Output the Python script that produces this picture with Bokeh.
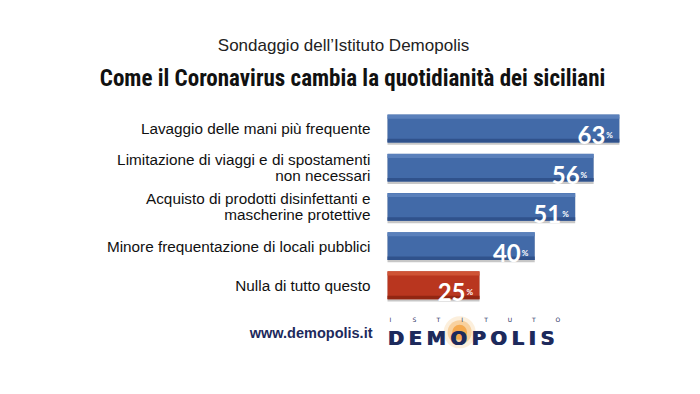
from bokeh.plotting import figure
from bokeh.models import Range1d, ColumnDataSource
from bokeh.core.properties import value
from bokeh.embed import file_html
from bokeh.resources import INLINE

# ---- data ----
subtitle = "Sondaggio dell\u2019Istituto Demopolis"
title = "Come il Coronavirus cambia la quotidianit\u00e0 dei siciliani"
categories = [
    "Lavaggio delle mani pi\u00f9 frequente",
    "Limitazione di viaggi e di spostamenti\nnon necessari",
    "Acquisto di prodotti disinfettanti e\nmascherine protettive",
    "Minore frequentazione di locali pubblici",
    "Nulla di tutto questo",
]
values = [63, 56, 51, 40, 25]
highlight = [False, False, False, False, True]
footer_url = "www.demopolis.it"
logo_word = "DEMOPOLIS"
logo_small = "ISTITUTO"

# ---- styling ----
MID = {False: "#426aa8", True: "#b9361f"}
TOP = {False: "#5a80bb", True: "#cf5335"}
BOT = {False: "#30528c", True: "#922612"}
NAVY = "#1d2a5c"

rows = list(range(len(values)))
src = ColumnDataSource(dict(
    y=rows,
    v=values,
    cat=categories,
    num=[str(v) for v in values],
    pct=["%"] * len(values),
    mid=[MID[h] for h in highlight],
    top=[TOP[h] for h in highlight],
    bot=[BOT[h] for h in highlight],
    y_top=[r - 0.30 for r in rows],
    y_bot=[r + 0.31 for r in rows],
    y_sh=[r + 0.06 for r in rows],
))

p = figure(width=684, height=378, output_backend="svg", toolbar_location=None,
           x_range=Range1d(-105.16, 80.7), y_range=Range1d(6.378, -3.265),
           x_axis_type=None, y_axis_type=None, min_border=0)
p.outline_line_color = None
p.xgrid.visible = False
p.ygrid.visible = False
p.background_fill_color = "white"
p.border_fill_color = "white"

BH = 0.71
# shadow
p.hbar(y="y_sh", left=0, right="v", height=BH, source=src,
       fill_color="#444444", fill_alpha=0.30, line_color=None)
# main bar
p.hbar(y="y", left=0, right="v", height=BH, source=src,
       fill_color="mid", line_color=None)
# top highlight band
p.hbar(y="y_top", left=0, right="v", height=0.10, source=src,
       fill_color="top", line_color=None)
# bottom darker band
p.hbar(y="y_bot", left=0, right="v", height=0.09, source=src,
       fill_color="bot", line_color=None)

# category labels
p.text(x=0, y="y", text="cat", source=src, x_offset=-17,
       text_align="right", text_baseline="middle",
       text_font=value("Liberation Sans"), text_font_size="15.3px",
       text_color="#111111", text_line_height=0.95)

# value labels
p.text(x="v", y="y", text="num", source=src, x_offset=-14, y_offset=7,
       text_align="right", text_baseline="alphabetic",
       text_font=value("Lato"), text_font_style="bold", text_font_size="24px",
       text_color="white")
p.text(x="v", y="y", text="pct", source=src, x_offset=-13, y_offset=7,
       text_align="left", text_baseline="alphabetic",
       text_font=value("Lato"), text_font_style="bold", text_font_size="8px",
       text_color="white")

# titles
p.text(x=[-11.96], y=[-2.117], text=[subtitle], text_align="center",
       text_baseline="middle", text_font=value("Liberation Sans"),
       text_font_size="17px", text_color="#222222")
p.text(x=[-9.5], y=[-1.276], text=[title], text_align="center",
       text_baseline="middle",
       text_font=value("Roboto Condensed, DejaVu Sans Condensed, Liberation Sans Narrow, Roboto, sans-serif"),
       text_font_style="bold", text_font_size="23px", text_color="#111111")

# footer
p.text(x=[0], y=[5.23], text=[footer_url], x_offset=-15, text_align="right",
       text_baseline="middle", text_font=value("Liberation Sans"),
       text_font_style="bold", text_font_size="14.5px", text_color=NAVY)

# logo: glow behind the O
for sz, al, col in [(32, 0.2, "#f2b050"), (24, 0.4, "#f2a640"), (15, 0.7, "#f39a2e")]:
    p.scatter(x=[19.6], y=[5.2], size=sz, marker="circle",
              fill_color=col, fill_alpha=al, line_color=None)

adv = {"D": 0.83, "E": 0.68, "M": 0.99, "O": 0.85, "P": 0.73,
       "L": 0.64, "I": 0.37, "S": 0.72}
LOGO_SIZE = 19.5
GAP = 4.6
letters = list(logo_word)
offs, cur = [], 0.0
for ch in letters:
    offs.append(cur)
    cur += adv[ch] * LOGO_SIZE + GAP
for dx in (0.0, 0.9):
    p.text(x=[0] * len(letters), y=[5.23] * len(letters), text=letters,
           x_offset=[o + dx for o in offs], y_offset=[5] * len(letters),
           text_align="left", text_baseline="alphabetic",
           text_font=value("DejaVu Sans"), text_font_style="bold",
           text_font_size=f"{LOGO_SIZE}px", text_color=NAVY)
small = list(logo_small)
p.text(x=[0] * len(small), y=[4.87] * len(small), text=small,
       x_offset=[3 + 23.9 * i for i in range(len(small))],
       text_align="center", text_baseline="middle",
       text_font=value("DejaVu Sans"), text_font_size="6px",
       text_color=NAVY)

open("out.html", "w").write(file_html(p, INLINE))
